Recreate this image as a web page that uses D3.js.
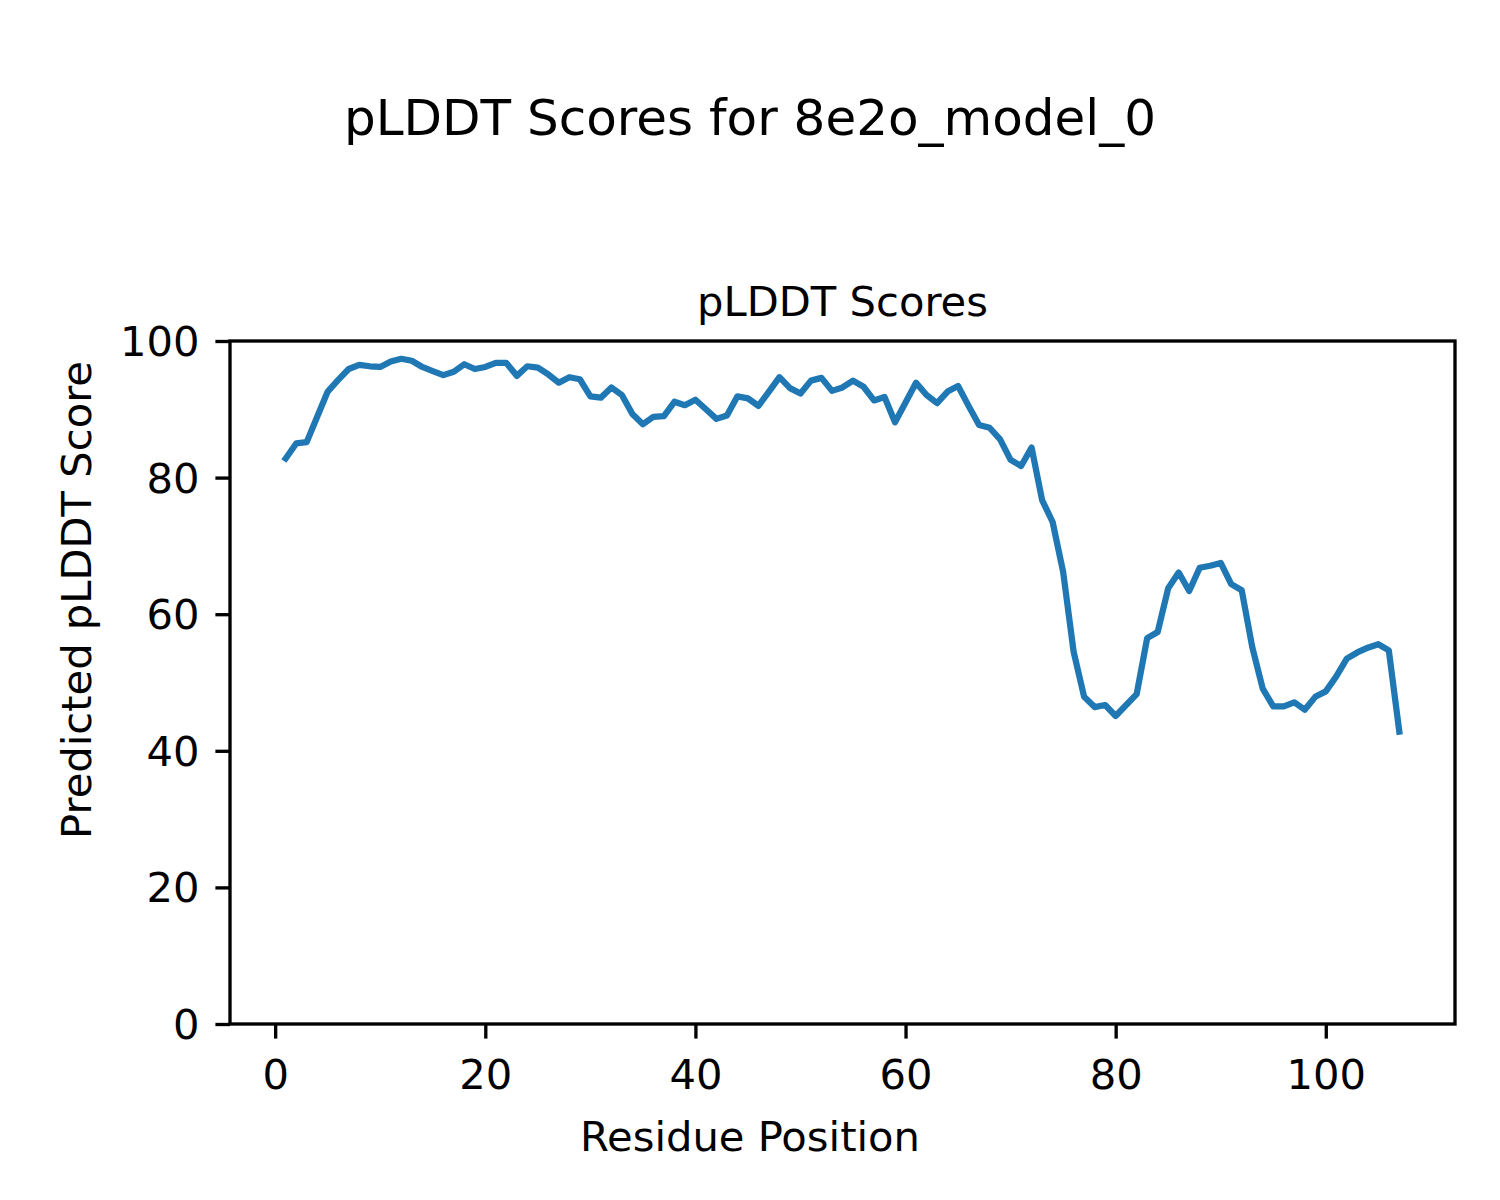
<!DOCTYPE html>
<html>
<head>
<meta charset="utf-8">
<script src="https://cdn.jsdelivr.net/npm/d3@7"></script>
<style>
  html, body { margin: 0; padding: 0; background: #fff; }
  svg { display: block; }
  text { font-family: "DejaVu Sans", sans-serif; fill: #000; }
</style>
</head>
<body>
<svg id="chart" width="1500" height="1200"></svg>
<script>
const residues = d3.range(1, 108);
const plddt = [
  82.8, 85.0, 85.2, 88.9, 92.6, 94.3, 95.9, 96.5, 96.3, 96.2,
  97.0, 97.4, 97.1, 96.2, 95.6, 95.0, 95.5, 96.6, 95.9, 96.2,
  96.8, 96.8, 94.9, 96.3, 96.1, 95.1, 93.9, 94.7, 94.4, 91.9,
  91.7, 93.2, 92.1, 89.3, 87.8, 88.9, 89.0, 91.1, 90.6, 91.4,
  90.0, 88.6, 89.1, 91.9, 91.6, 90.5, 92.6, 94.7, 93.1, 92.3,
  94.2, 94.6, 92.7, 93.2, 94.2, 93.3, 91.3, 91.8, 88.1, 91.0,
  93.9, 92.1, 90.9, 92.6, 93.4, 90.5, 87.7, 87.3, 85.6, 82.6,
  81.7, 84.4, 76.7, 73.5, 66.2, 54.5, 47.9, 46.4, 46.7, 45.1,
  46.7, 48.3, 56.5, 57.4, 63.8, 66.1, 63.4, 66.8, 67.1, 67.5,
  64.4, 63.5, 55.2, 49.1, 46.5, 46.5, 47.1, 46.0, 47.9, 48.7,
  50.9, 53.5, 54.4, 55.1, 55.6, 54.7, 42.8
];
const xTicks = [0, 20, 40, 60, 80, 100];
const yTicks = [0, 20, 40, 60, 80, 100];
const suptitle = "pLDDT Scores for 8e2o_model_0";
const axTitle = "pLDDT Scores";
const xLabel = "Residue Position";
const yLabel = "Predicted pLDDT Score";

const svg = d3.select("#chart");
const L = 230, R = 1455, T = 341, B = 1024;
const fs = 41.67;
const lw = 3.33;
const tickLen = 14.6;

const xmin = d3.min(residues), xmax = d3.max(residues);
const pad = (xmax - xmin) * 0.05;
const x = d3.scaleLinear().domain([xmin - pad, xmax + pad]).range([L, R]);
const y = d3.scaleLinear().domain([0, 100]).range([B, T]);

// line
const line = d3.line().x((d, i) => x(residues[i])).y(d => y(d));
svg.append("path")
  .datum(plddt)
  .attr("d", line)
  .attr("fill", "none")
  .attr("stroke", "#1f77b4")
  .attr("stroke-width", 6.25)
  .attr("stroke-linejoin", "round")
  .attr("stroke-linecap", "square");

// axes
const xAxis = d3.axisBottom(x).tickValues(xTicks).tickSize(tickLen).tickPadding(14.6).tickSizeOuter(0);
const gx = svg.append("g").attr("transform", `translate(0,${B})`).call(xAxis);
const yAxis = d3.axisLeft(y).tickValues(yTicks).tickSize(tickLen).tickPadding(14.6).tickSizeOuter(0);
const gy = svg.append("g").attr("transform", `translate(${L},0)`).call(yAxis);
[gx, gy].forEach(g => {
  g.select(".domain").remove();
  g.selectAll(".tick line").attr("stroke", "#000").attr("stroke-width", lw);
  g.selectAll(".tick text").attr("font-size", fs).attr("font-family", "DejaVu Sans, sans-serif").attr("fill", "#000");
});
gx.selectAll(".tick text").attr("dy", "0.85em");
gy.selectAll(".tick text").attr("dy", "0.35em").attr("x", -(tickLen + 16));

// frame
svg.append("rect")
  .attr("x", L).attr("y", T).attr("width", R - L).attr("height", B - T)
  .attr("fill", "none").attr("stroke", "#000").attr("stroke-width", lw);

// titles
svg.append("text").attr("x", 750).attr("y", 135).attr("text-anchor", "middle")
  .attr("font-size", 50).text(suptitle);
svg.append("text").attr("x", (L + R) / 2).attr("y", T - 25).attr("text-anchor", "middle")
  .attr("font-size", fs).text(axTitle);
svg.append("text").attr("x", 750).attr("y", 1151).attr("text-anchor", "middle")
  .attr("font-size", fs).text(xLabel);
svg.append("text").attr("transform", `translate(91,600) rotate(-90)`).attr("text-anchor", "middle")
  .attr("font-size", fs).text(yLabel);
</script>
</body>
</html>
